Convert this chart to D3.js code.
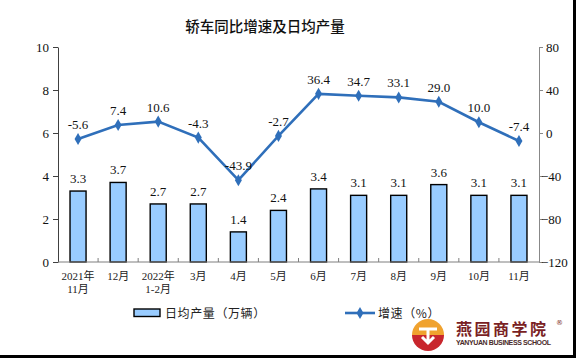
<!DOCTYPE html>
<html>
<head>
<meta charset="utf-8">
<style>
  body { margin: 0; background: #fff; }
  svg { display: block; }
</style>
</head>
<body>
<div class="container"></div>
<script src="https://d3js.org/d3.v7.min.js"></script>
<script>
  // data
  var months = [['2021年', '11月'], ['12月'], ['2022年', '1-2月'], ['3月'], ['4月'], ['5月'],
                ['6月'], ['7月'], ['8月'], ['9月'], ['10月'], ['11月']];
  var dailyOutput = [3.3, 3.7, 2.7, 2.7, 1.4, 2.4, 3.4, 3.1, 3.1, 3.6, 3.1, 3.1];
  var growth = [-5.6, 7.4, 10.6, -4.3, -43.9, -2.7, 36.4, 34.7, 33.1, 29.0, 10.0, -7.4];
  var leftTicks = [0, 2, 4, 6, 8, 10];
  var rightTicks = [-120, -80, -40, 0, 40, 80];

  // plot box (note: "top" is taken by window.top, so use other names)
  var W = 576, H = 358,
      plotL = 58, plotR = 539, plotT = 47, plotB = 262;
  var serif = '"Liberation Serif", "Times New Roman", "Noto Sans CJK SC", serif';
  var cjk = '"Noto Sans CJK SC", sans-serif';
  var lineColor = '#2f6fba';

  var svg = d3.select('.container').append('svg')
      .attr('width', W).attr('height', H);

  svg.append('rect').attr('width', W).attr('height', H).attr('fill', '#fff');

  var x = d3.scaleBand()
      .domain(d3.range(months.length))
      .range([plotL, plotR])
      .paddingInner(0.6)
      .paddingOuter(0.3);
  var step = x.step();
  var yL = d3.scaleLinear().domain([0, 10]).range([plotB, plotT]);
  var yR = d3.scaleLinear().domain([-120, 80]).range([plotB, plotT]);

  // title
  svg.append('text')
      .attr('x', 265).attr('y', 32)
      .attr('text-anchor', 'middle')
      .style('font-family', cjk).style('font-size', '14.5px').style('font-weight', 500)
      .attr('fill', '#111')
      .text('轿车同比增速及日均产量');

  // left axis
  var axL = svg.append('g')
      .attr('transform', 'translate(' + plotL + ',0)')
      .call(d3.axisLeft(yL).tickValues(leftTicks).tickSize(5).tickPadding(4).tickSizeOuter(0));
  axL.select('.domain').attr('stroke', '#404040');
  axL.selectAll('.tick line').attr('stroke', '#404040');
  axL.selectAll('text').style('font-family', serif).style('font-size', '13px').attr('fill', '#111');

  // right axis
  var axR = svg.append('g')
      .attr('transform', 'translate(' + plotR + ',0)')
      .call(d3.axisRight(yR).tickValues(rightTicks).tickSize(4).tickPadding(3).tickSizeOuter(0));
  axR.select('.domain').attr('stroke', '#888');
  axR.selectAll('.tick line').attr('stroke', '#888');
  axR.selectAll('text')
      .style('font-family', serif).style('font-size', '13px').attr('fill', '#111')
      .attr('x', function(d) { return d < 0 ? 2 : 7; });

  // bars
  svg.append('g').selectAll('rect')
      .data(dailyOutput)
      .join('rect')
      .attr('x', function(d, i) { return x(i); })
      .attr('y', function(d) { return yL(d); })
      .attr('width', x.bandwidth())
      .attr('height', function(d) { return plotB - yL(d); })
      .attr('fill', '#99ccff')
      .attr('stroke', '#000')
      .attr('stroke-width', 1.4);

  svg.append('g').selectAll('text')
      .data(dailyOutput)
      .join('text')
      .attr('x', function(d, i) { return x(i) + x.bandwidth() / 2; })
      .attr('y', function(d) { return yL(d) - 8; })
      .attr('text-anchor', 'middle')
      .style('font-family', serif).style('font-size', '13px')
      .attr('fill', '#111')
      .text(function(d) { return d.toFixed(1); });

  // bottom axis with inward ticks at category boundaries
  var axB = svg.append('g');
  axB.append('line')
      .attr('x1', plotL).attr('x2', plotR).attr('y1', plotB).attr('y2', plotB)
      .attr('stroke', '#7f7f7f');
  axB.selectAll('line.tk')
      .data(d3.range(1, months.length))
      .join('line')
      .attr('class', 'tk')
      .attr('x1', function(i) { return plotL + i * step; })
      .attr('x2', function(i) { return plotL + i * step; })
      .attr('y1', plotB).attr('y2', plotB - 4)
      .attr('stroke', '#7f7f7f');
  axB.selectAll('text')
      .data(months)
      .join('text')
      .attr('text-anchor', 'middle')
      .attr('x', function(d, i) { return x(i) + x.bandwidth() / 2; })
      .attr('y', 280)
      .style('font-family', serif).style('font-size', '11px')
      .attr('fill', '#222')
      .selectAll('tspan')
      .data(function(d) { return d; })
      .join('tspan')
      .attr('x', function() { return this.parentNode.getAttribute('x'); })
      .attr('dy', function(d, j) { return j ? 13 : 0; })
      .text(function(d) { return d; });

  // growth line
  var line = d3.line()
      .x(function(d, i) { return x(i) + x.bandwidth() / 2; })
      .y(function(d) { return yR(d); });
  svg.append('path')
      .datum(growth)
      .attr('d', line)
      .attr('fill', 'none')
      .attr('stroke', lineColor)
      .attr('stroke-width', 2.6);

  var diamond = d3.symbol().type(d3.symbolDiamond).size(42);
  svg.append('g').selectAll('path')
      .data(growth)
      .join('path')
      .attr('d', diamond)
      .attr('transform', function(d, i) {
        return 'translate(' + (x(i) + x.bandwidth() / 2) + ',' + yR(d) + ')';
      })
      .attr('fill', lineColor);

  svg.append('g').selectAll('text')
      .data(growth)
      .join('text')
      .attr('x', function(d, i) { return x(i) + x.bandwidth() / 2; })
      .attr('y', function(d) { return yR(d) - 10; })
      .attr('text-anchor', 'middle')
      .style('font-family', serif).style('font-size', '13px')
      .attr('fill', '#111')
      .text(function(d) { return d.toFixed(1); });

  // legend
  var lg = svg.append('g');
  lg.append('rect')
      .attr('x', 134).attr('y', 309).attr('width', 26).attr('height', 7.5)
      .attr('fill', '#99ccff').attr('stroke', '#000').attr('stroke-width', 1.4);
  lg.append('text')
      .attr('x', 165).attr('y', 317.5)
      .style('font-family', cjk).style('font-size', '12px').style('letter-spacing', '0.6px')
      .attr('fill', '#222')
      .text('日均产量（万辆）');
  lg.append('line')
      .attr('x1', 345).attr('x2', 375).attr('y1', 313).attr('y2', 313)
      .attr('stroke', lineColor).attr('stroke-width', 2.6);
  lg.append('path')
      .attr('d', diamond)
      .attr('transform', 'translate(360,313)')
      .attr('fill', lineColor);
  lg.append('text')
      .attr('x', 378).attr('y', 317.5)
      .style('font-family', cjk).style('font-size', '12px').style('letter-spacing', '0.6px')
      .attr('fill', '#222')
      .text('增速（%）');

  // watermark logo
  var logo = svg.append('g').attr('transform', 'translate(428,335)');
  logo.append('path')
      .attr('d', d3.arc()({ innerRadius: 0, outerRadius: 16, startAngle: -Math.PI / 2, endAngle: Math.PI / 2 }))
      .attr('fill', '#f0a22e');
  logo.append('path')
      .attr('d', d3.arc()({ innerRadius: 0, outerRadius: 16, startAngle: Math.PI / 2, endAngle: Math.PI * 1.5 }))
      .attr('fill', '#c8262d');
  logo.append('path')
      .attr('d', 'M-9,-6 L9,-6 M0,-6 L0,8 M-6,2 L0,8 L6,2')
      .attr('fill', 'none').attr('stroke', '#fff').attr('stroke-width', 3);
  svg.append('text')
      .attr('x', 456).attr('y', 335)
      .style('font-family', cjk).style('font-size', '16px').style('font-weight', 700)
      .style('letter-spacing', '2.5px')
      .attr('fill', '#7a1f24')
      .text('燕园商学院');
  svg.append('text')
      .attr('x', 556).attr('y', 325)
      .style('font-family', '"DejaVu Sans", sans-serif').style('font-size', '7px')
      .attr('fill', '#7a1f24')
      .text('®');
  svg.append('text')
      .attr('x', 456).attr('y', 345)
      .style('font-family', '"Liberation Sans", sans-serif').style('font-size', '7px').style('font-weight', 700)
      .attr('textLength', 95)
      .attr('fill', '#4a2a2a')
      .text('YANYUAN BUSINESS SCHOOL');

  // frame edges of the screenshot
  svg.append('rect').attr('x', 573).attr('y', 0).attr('width', 3).attr('height', H).attr('fill', '#000');
  svg.append('rect').attr('x', 0).attr('y', 355).attr('width', W).attr('height', 3).attr('fill', '#000');
</script>
</body>
</html>
